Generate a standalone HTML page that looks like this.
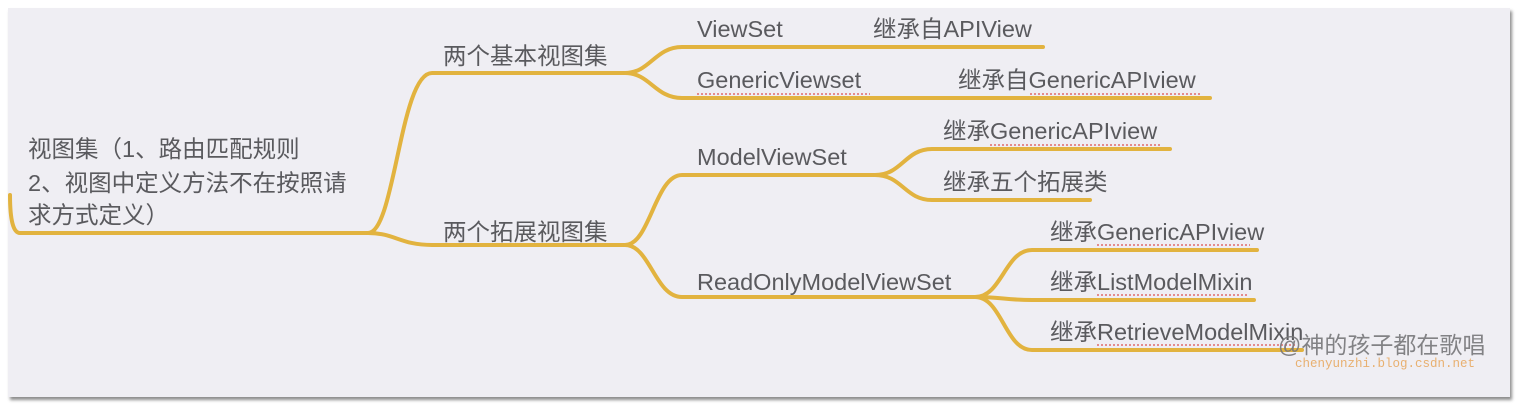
<!DOCTYPE html>
<html><head><meta charset="utf-8"><style>
html,body{margin:0;padding:0;background:#fff;}
body{width:1520px;height:409px;position:relative;overflow:hidden;}
.panel{position:absolute;left:8px;top:8px;width:1502px;height:389px;background:#efeef3;box-shadow:2px 3px 3px rgba(0,0,0,.45);}
svg{position:absolute;left:0;top:0;}
text{font-family:"Liberation Sans","Noto Sans CJK SC",sans-serif;font-size:23.5px;fill:#5a5a5e;}
</style></head><body>
<div class="panel"></div>
<svg width="1520" height="409" viewBox="0 0 1520 409">
<g fill="none" stroke="#e2b33f" stroke-width="4" stroke-linecap="round">
<path d="M10 195 Q10 233 20 233 L368 233"/>
<path d="M368 233 C395 233 400 73 432 73 L625 73"/>
<path d="M368 233 C395 233 400 245 432 245 L625 245"/>
<path d="M625 73 C650 73 655 47 682 47 L1043 47"/>
<path d="M625 73 C650 73 655 98 682 98 L1210 98"/>
<path d="M625 245 C650 245 655 175 682 175 L875 175"/>
<path d="M625 245 C650 245 655 297 682 297 L975 297"/>
<path d="M875 175 C902 175 905 149 932 149 L1170 149"/>
<path d="M875 175 C902 175 905 200 932 200 L1090 200"/>
<path d="M975 297 C1002 297 1005 250 1032 250 L1257 250"/>
<path d="M975 297 C1002 297 1005 300 1032 300 L1254 300"/>
<path d="M975 297 C1002 297 1005 350 1032 350 L1302 350"/>
</g>
<g stroke="#e06a6a" stroke-width="1.5" stroke-dasharray="2 2">
<path d="M697 94 L870 94"/>
<path d="M1030 94 L1202 94"/>
<path d="M990 145 L1162 145"/>
<path d="M1097 245 L1250 245"/>
<path d="M1097 295 L1248 295"/>
<path d="M1097 345 L1296 345"/>
</g>
<text x="28" y="157">视图集（1、路由匹配规则</text>
<text x="28" y="191">2、视图中定义方法不在按照请</text>
<text x="28" y="223">求方式定义）</text>
<text x="443" y="64">两个基本视图集</text>
<text x="443" y="240">两个拓展视图集</text>
<text x="697" y="37">ViewSet</text>
<text x="873" y="37">继承自APIView</text>
<text x="697" y="88">GenericViewset</text>
<text x="958" y="88">继承自GenericAPIview</text>
<text x="697" y="165">ModelViewSet</text>
<text x="943" y="139">继承GenericAPIview</text>
<text x="943" y="190">继承五个拓展类</text>
<text x="697" y="290">ReadOnlyModelViewSet</text>
<text x="1050" y="240">继承GenericAPIview</text>
<text x="1050" y="290">继承ListModelMixin</text>
<text x="1050" y="340">继承RetrieveModelMixin</text>
<text x="1278" y="353" style="font-size:23px;fill:#77777a;opacity:.9">@神的孩子都在歌唱</text>
<text x="1295" y="367" style="font-family:'Liberation Mono',monospace;font-size:12.5px;fill:#e8b070">chenyunzhi.blog.csdn.net</text>
</svg>
</body></html>
